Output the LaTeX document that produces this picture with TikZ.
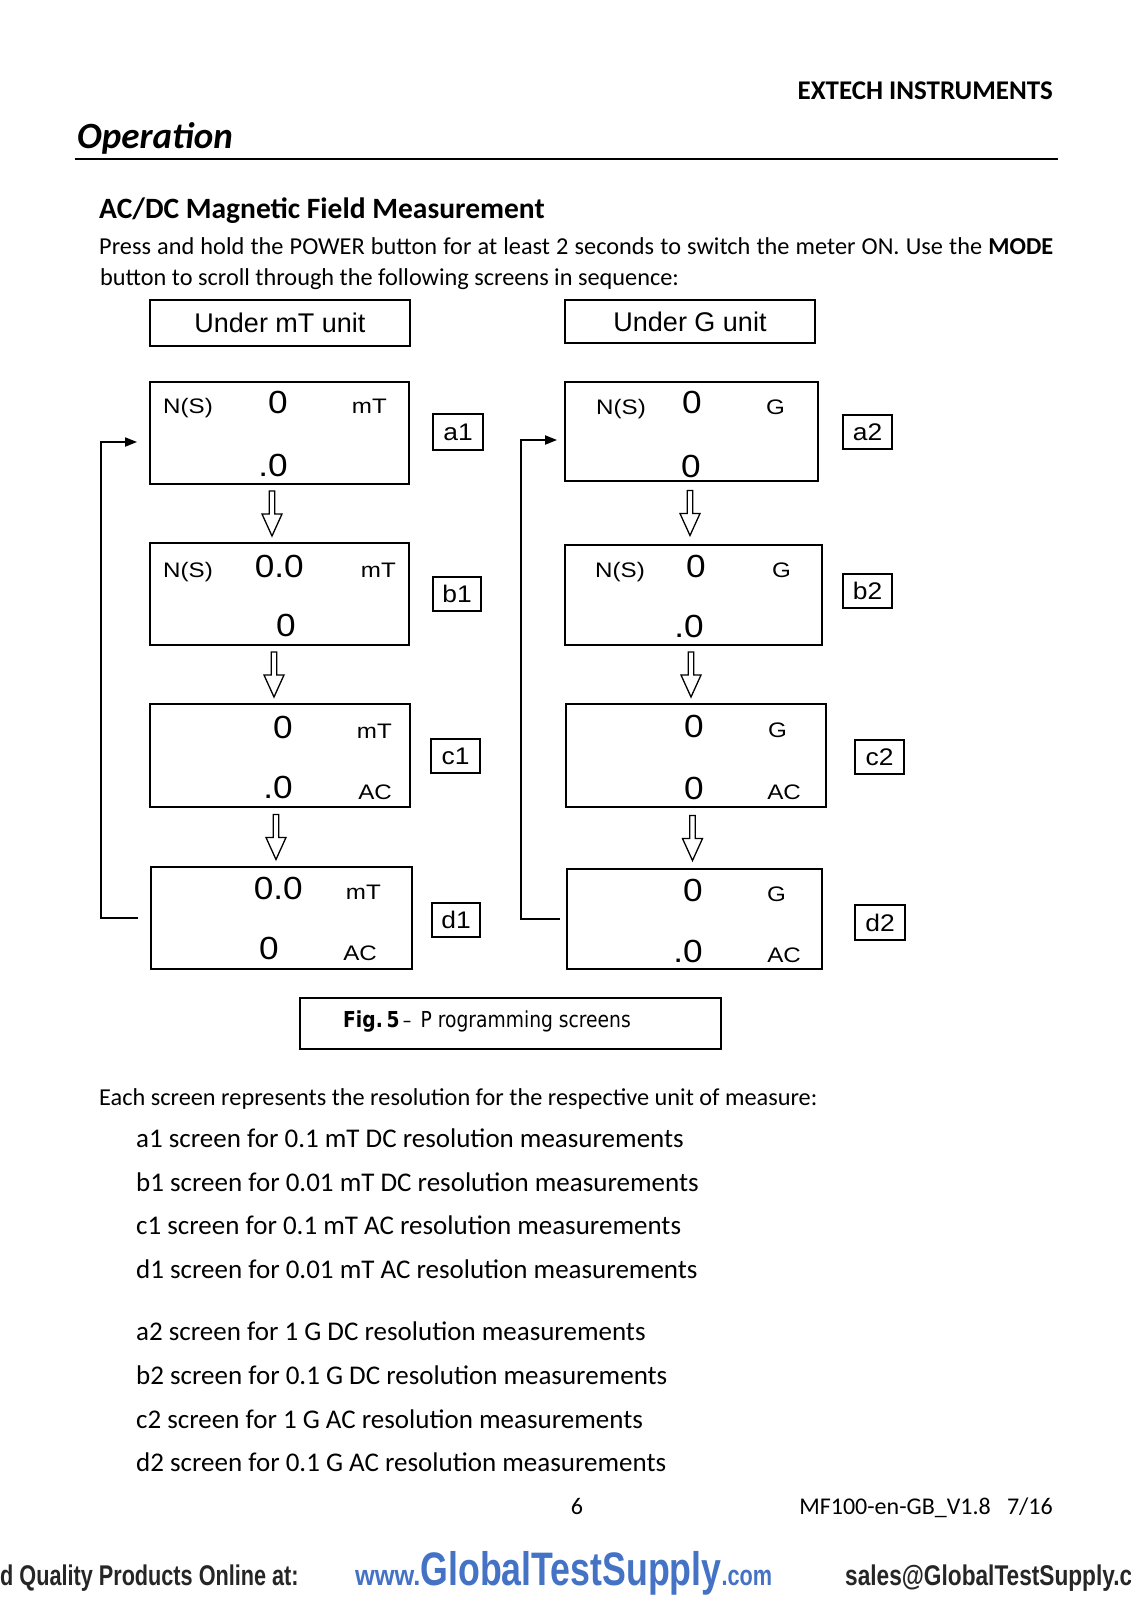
\documentclass[tikz,border=0pt]{standalone}
\usepackage{fontspec}
\setmainfont{Carlito}
\newfontfamily\arialw[FakeStretch=1.1]{Liberation Sans}
\newfontfamily\arialn{Liberation Sans}
\newfontfamily\ariallab[FakeStretch=1.15]{Liberation Sans}
\newfontfamily\capfont[FakeStretch=0.85]{DejaVu Sans}
\newfontfamily\footfont[FakeStretch=0.76]{Liberation Sans}
\newfontfamily\footmail[FakeStretch=0.795]{Liberation Sans}
\newfontfamily\footwww[FakeStretch=0.89]{Liberation Sans}
\newfontfamily\footbig[FakeStretch=0.76]{Liberation Sans}
\usetikzlibrary{fit,calc,arrows.meta}
\definecolor{gtsblue}{RGB}{68,114,196}
\newcommand\fs[1]{\fontsize{#1}{#1}\selectfont}
\newcommand\holarrow[3]{%
  \path[holstyle] let \p1=($(#1.south)+(#3,0)$), \p2=(#2.north), \n1={(\y1+\y2)/2} in
  (\x1-2.8pt,\n1+22.5pt) -- (\x1+2.8pt,\n1+22.5pt) -- (\x1+2.8pt,\n1-0.5pt) --
  (\x1+10pt,\n1-0.5pt) -- (\x1,\n1-22.5pt) -- (\x1-10pt,\n1-0.5pt) --
  (\x1-2.8pt,\n1-0.5pt) -- cycle;}
\begin{document}
\begin{tikzpicture}[x=1pt,y=-1pt,
  screen/.style={draw, line width=1.8pt, inner sep=0pt},
  tagbox/.style={draw, line width=1.4pt, inner sep=0pt},
  tagtext/.style={inner sep=0pt, font=\arialw\fs{24}},
  unitbox/.style={draw, line width=1.8pt, inner sep=0pt},
  unittext/.style={inner sep=0pt, font=\arialn\fs{27}},
  dig/.style={inner sep=0pt, anchor=base east, font=\arialw\fs{32}},
  sml/.style={inner sep=0pt, anchor=base east, font=\ariallab\fs{21}},
  smlw/.style={inner sep=0pt, anchor=base west, font=\ariallab\fs{21}},
  body/.style={inner sep=0pt, anchor=base west, font=\fs{24.3}},
  item/.style={inner sep=0pt, anchor=base west, font=\fs{27}},
  loopline/.style={line width=1.8pt, -{Triangle[length=12pt,width=9pt]}},
  holstyle/.style={draw, line width=1.3pt, fill=white, line join=miter}]
\useasboundingbox (0,0) rectangle (1130,1600);
\fill[white] (0,0) rectangle (1130,1600);

% header
\node[inner sep=0pt, anchor=base east, font=\bfseries\fs{27}] (hdr) at (1053,100) {EXTECH INSTRUMENTS};
\node[inner sep=0pt, anchor=base west, font=\bfseries\itshape\fs{37}] (oper) at (77,149) {Operation};
\draw[line width=1.3pt] (75,159) -- (1058,159);
\node[inner sep=0pt, anchor=base west, font=\bfseries\fs{29.5}] (head) at (99,218) {AC/DC Magnetic Field Measurement};
\node[body] (p1) at (99,254) {\makebox[954pt][s]{Press and hold the POWER button for at least 2 seconds to switch the meter ON. Use the \textbf{MODE}}};
\node[body] (p2) at (100,285) {button to scroll through the following screens in sequence:};

% unit boxes
\node[unitbox, fit={(150,300) (410,346)}] (umt) {};
\node[unittext] (umtt) at (umt.center) {Under mT unit};
\node[unitbox, fit={(565,300) (815,343)}] (ug) {};
\node[unittext] (ugt) at (ug.center) {Under G unit};

% left screens
\node[screen, fit={(150,382) (409,484)}] (a1) {};
\node[screen, fit={(150,543) (409,645)}] (b1) {};
\node[screen, fit={(150,704) (410,807)}] (c1) {};
\node[screen, fit={(151,867) (412,969)}] (d1) {};
% right screens
\node[screen, fit={(565,382) (818,481)}] (a2) {};
\node[screen, fit={(565,545) (822,645)}] (b2) {};
\node[screen, fit={(566,704) (826,807)}] (c2) {};
\node[screen, fit={(567,869) (822,969)}] (d2) {};

% tags
\node[tagbox, fit={(433,414) (483,450)}] (ta1) {};
\node[tagtext] (ta1t) at (ta1.center) {a1};
\node[tagbox, fit={(433,577) (481,611)}] (tb1) {};
\node[tagtext] (tb1t) at (tb1.center) {b1};
\node[tagbox, fit={(431,739) (480,773)}] (tc1) {};
\node[tagtext] (tc1t) at (tc1.center) {c1};
\node[tagbox, fit={(432,903) (480,937)}] (td1) {};
\node[tagtext] (td1t) at (td1.center) {d1};
\node[tagbox, fit={(843,415) (892,449)}] (ta2) {};
\node[tagtext] (ta2t) at (ta2.center) {a2};
\node[tagbox, fit={(843,574) (892,608)}] (tb2) {};
\node[tagtext] (tb2t) at (tb2.center) {b2};
\node[tagbox, fit={(855,740) (904,774)}] (tc2) {};
\node[tagtext] (tc2t) at (tc2.center) {c2};
\node[tagbox, fit={(855,905) (905,940)}] (td2) {};
\node[tagtext] (td2t) at (td2.center) {d2};

% a1
\node[smlw] (a1n) at (163,413) {N(S)};
\node[dig] (a1x) at (288,413) {0};
\node[sml] (a1u) at (387,413) {mT};
\node[dig] (a1y) at (288,476) {.0};
% b1
\node[smlw] (b1n) at (163,577) {N(S)};
\node[dig] (b1x) at (304,577) {0.0};
\node[sml] (b1u) at (396,577) {mT};
\node[dig] (b1y) at (296,636) {0};
% c1
\node[dig] (c1x) at (293,738) {0};
\node[sml] (c1u) at (392,738) {mT};
\node[dig] (c1y) at (293,798) {.0};
\node[sml] (c1m) at (392,799) {AC};
% d1
\node[dig] (d1x) at (303,899) {0.0};
\node[sml] (d1u) at (381,899) {mT};
\node[dig] (d1y) at (279,959) {0};
\node[sml] (d1m) at (377,960) {AC};
% a2
\node[smlw] (a2n) at (596,414) {N(S)};
\node[dig] (a2x) at (702,413) {0};
\node[sml] (a2u) at (785,414) {G};
\node[dig] (a2y) at (701,477) {0};
% b2
\node[smlw] (b2n) at (595,577) {N(S)};
\node[dig] (b2x) at (706,577) {0};
\node[sml] (b2u) at (791,577) {G};
\node[dig] (b2y) at (704,637) {.0};
% c2
\node[dig] (c2x) at (704,737) {0};
\node[sml] (c2u) at (787,737) {G};
\node[dig] (c2y) at (704,799) {0};
\node[sml] (c2m) at (801,799) {AC};
% d2
\node[dig] (d2x) at (703,901) {0};
\node[sml] (d2u) at (786,901) {G};
\node[dig] (d2y) at (703,962) {.0};
\node[sml] (d2m) at (801,962) {AC};

% hollow arrows
\holarrow{a1}{b1}{-7.5}
\holarrow{b1}{c1}{-5.5}
\holarrow{c1}{d1}{-4}
\holarrow{a2}{b2}{-1.5}
\holarrow{b2}{c2}{-2.5}
\holarrow{c2}{d2}{-3.5}

% loop back
\draw[loopline] ($(d1.west)+(-12,0)$) -| ($(a1.west)+(-48,9)$) -- ($(a1.west)+(-12,9)$);
\draw[loopline] ($(d2.west)+(-6,0)$) -| ($(a2.west)+(-43,8.5)$) -- ($(a2.west)+(-7,8.5)$);

% caption
\node[draw, line width=1.8pt, fit={(300,998) (721,1049)}, inner sep=0pt] (cap) {};
\node[inner sep=0pt, anchor=base west, font=\capfont\fs{22}] (capt) at (343,1027) {\textbf{Fig.\,5}{\fs{20}\,–\,} P rogramming screens};

% body text
\node[body] (intro) at (99,1105) {Each screen represents the resolution for the respective unit of measure:};
\node[item] (ia1) at (136,1147) {a1 screen for 0.1 mT DC resolution measurements};
\node[item] (ib1) at (136,1191) {b1 screen for 0.01 mT DC resolution measurements};
\node[item] (ic1) at (136,1234) {c1 screen for 0.1 mT AC resolution measurements};
\node[item] (id1) at (136,1278) {d1 screen for 0.01 mT AC resolution measurements};
\node[item] (ia2) at (136,1340) {a2 screen for 1 G DC resolution measurements};
\node[item] (ib2) at (136,1384) {b2 screen for 0.1 G DC resolution measurements};
\node[item] (ic2) at (136,1428) {c2 screen for 1 G AC resolution measurements};
\node[item] (id2) at (136,1471) {d2 screen for 0.1 G AC resolution measurements};

% page footer
\node[inner sep=0pt, anchor=base, font=\fs{24}] (pg) at (577,1514) {6};
\node[inner sep=0pt, anchor=base east, font=\fs{24}] (ver) at (1053,1514) {MF100-en-GB\_V1.8\ \ \ 7/16};

\node[inner sep=0pt, anchor=base west, font=\footfont\bfseries\fs{28.5}, text=black!85] (f1) at (0,1585) {d Quality Products Online at:};
\node[inner sep=0pt, anchor=base west, text=gtsblue] (f2) at (355,1585) {{\footwww\bfseries\fs{28.5}www.}{\footbig\bfseries\fs{47}GlobalTestSupply}{\footfont\bfseries\fs{28.5}.com}};
\node[inner sep=0pt, anchor=base west, font=\footmail\bfseries\fs{28.5}, text=black!85] (f3) at (845,1585) {sales@GlobalTestSupply.c};
\end{tikzpicture}
\end{document}
